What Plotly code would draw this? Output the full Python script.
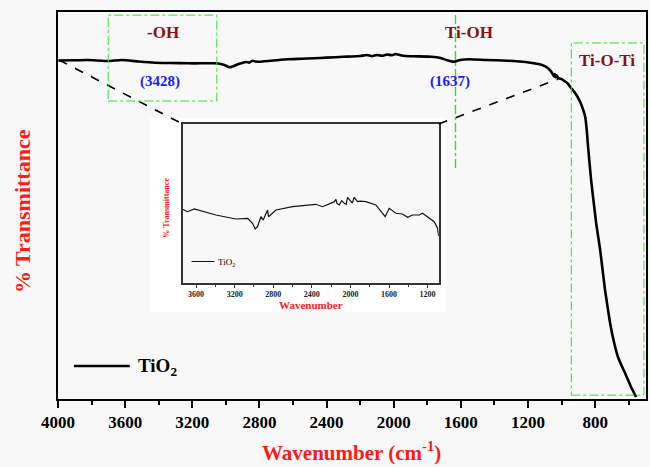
import plotly.graph_objects as go

# ---------------- data ----------------
main_wn = [3998, 3900, 3820, 3701, 3622, 3520, 3424, 3328, 3228, 3150, 3068, 3030, 3009, 2979, 2960,
           2939, 2909, 2880, 2860, 2850, 2841, 2820, 2791, 2700, 2633, 2550, 2474, 2400, 2300, 2200,
           2160, 2130, 2100, 2070, 2040, 2010, 1990, 1960, 1930, 1880, 1775, 1720, 1685, 1660, 1639,
           1605, 1548, 1450, 1321, 1250, 1185, 1130, 1094, 1070, 1055, 1045, 1040, 1035, 1030, 1020,
           1000, 991, 965, 943, 915, 889, 870, 859, 850, 842, 824, 794, 770, 741, 711, 685, 664, 640,
           622, 586, 556]
main_T = [87.47, 87.52, 87.60, 87.34, 87.60, 87.21, 86.90, 86.82, 86.74, 86.74, 86.74, 86.56, 86.30, 85.71, 85.92,
          86.30, 86.74, 87.08, 86.90, 87.21, 87.42, 87.21, 87.16, 87.52, 87.78, 87.91, 88.04, 88.22, 88.42, 88.63,
          88.89, 88.58, 88.89, 88.68, 89.02, 88.81, 89.15, 88.84, 88.63, 88.55, 88.45, 88.11, 87.60, 87.29, 87.16,
          87.60, 87.78, 87.60, 87.42, 87.21, 86.90, 86.49, 85.87, 85.01, 84.11, 83.33, 83.98, 83.07, 83.72, 82.95,
          82.69, 82.43, 81.6, 80.36, 78.8, 76.74, 74.6, 72.87, 69.5, 65.12, 56.59, 45.48, 38.50, 28.17, 19.64, 14.2,
          10.85, 8.4, 6.72, 3.10, 0.52]

inset_wn = [3740, 3688, 3619, 3394, 3187, 3066, 3015, 2987, 2963, 2928, 2904, 2859, 2849, 2772, 2600,
            2358, 2289, 2186, 2170, 2150, 2140, 2116, 2090, 2064, 2045, 2030, 2010, 1995, 1980, 1961,
            1945, 1926, 1900, 1840, 1736, 1702, 1640, 1598, 1529, 1460, 1408, 1357, 1287, 1253, 1200,
            1132, 1097, 1086]
inset_T = [46.35, 44.84, 46.54, 42.77, 40.25, 40.69, 37.55, 33.96, 35.41, 41.70, 39.62, 45.91, 41.70, 45.91, 47.99,
           49.50, 47.99, 50.50, 51.0, 52.64, 50.0, 49.06, 51.8, 50.13, 49.5, 53.90, 52.5, 51.13, 50.2, 53.90,
           52.8, 51.13, 51.5, 51.13, 49.06, 46.35, 41.70, 46.98, 43.84, 43.40, 41.32, 42.77, 42.77, 43.84, 41.32,
           38.55, 34.40, 29.56]

main_ticks = [4000, 3600, 3200, 2800, 2400, 2000, 1600, 1200, 800]
inset_ticks = [3600, 3200, 2800, 2400, 2000, 1600, 1200]
series_name = "TiO<sub>2</sub>"

# ---------------- geometry helpers (pixel -> paper) ----------------
W, H = 650, 467
L, R, T, B = 58, 648, 12, 399


def px(x):
    return (x - L) / (R - L)


def py(y):
    return (B - y) / (B - T)


SERIF = "Liberation Serif"
RED = "#ff1a1a"
MAROON = "#8b1010"
BLUE = "#1a1aff"
GREEN = "#33dd33"

fig = go.Figure()

fig.add_trace(go.Scatter(x=main_wn, y=main_T, mode="lines",
                         line=dict(color="black", width=2.6, shape="spline", smoothing=0.4), name=series_name,
                         showlegend=False, xaxis="x", yaxis="y"))
fig.add_trace(go.Scatter(x=inset_wn, y=inset_T, mode="lines",
                         line=dict(color="#111111", width=1.2), name=series_name,
                         showlegend=False, xaxis="x2", yaxis="y2"))

shapes = []
annotations = []

# white backdrop for the inset image
shapes.append(dict(type="rect", xref="paper", yref="paper", x0=px(150), x1=px(447),
                   y0=py(312), y1=py(118), fillcolor="white", line=dict(width=0), layer="below"))

# dashed connectors
shapes.append(dict(type="line", xref="paper", yref="paper", x0=px(59), y0=py(60), x1=px(183), y1=py(124),
                   line=dict(color="black", width=1.6, dash="dash")))
shapes.append(dict(type="line", xref="paper", yref="paper", x0=px(440), y0=py(124), x1=px(560), y1=py(79),
                   line=dict(color="black", width=1.6, dash="dash")))

# green highlight boxes / line (data coordinates)
shapes.append(dict(type="rect", xref="x", yref="y", x0=3701, x1=3054, y0=77.0, y1=99.2,
                   line=dict(color=GREEN, width=1, dash="dashdot")))
shapes.append(dict(type="line", xref="x", yref="y", x0=1632, x1=1632, y0=59.7, y1=99.2,
                   line=dict(color=GREEN, width=1.4, dash="dashdot")))
shapes.append(dict(type="rect", xref="x", yref="y", x0=942, x1=509, y0=1.0, y1=92.0,
                   line=dict(color=GREEN, width=1, dash="dashdot")))

# main legend
shapes.append(dict(type="line", xref="paper", yref="paper", x0=px(74), x1=px(130), y0=py(366), y1=py(366),
                   line=dict(color="black", width=2.6)))


def ann(x, y, text, size, color, xanchor="center", angle=0):
    return dict(xref="paper", yref="paper", x=px(x), y=py(y), text=text, showarrow=False,
                xanchor=xanchor, yanchor="middle", textangle=angle,
                font=dict(family=SERIF, size=size, color=color))


annotations.append(ann(136, 367, "<b>TiO<sub>2</sub></b>", 19, "black", xanchor="left"))

# inset legend
shapes.append(dict(type="line", xref="paper", yref="paper", x0=px(192), x1=px(215), y0=py(261.5), y1=py(261.5),
                   line=dict(color="#111111", width=1)))
annotations.append(ann(217, 262, "TiO<sub>2</sub>", 9, "black", xanchor="left"))

# labels
annotations += [
    ann(163, 32, "<b>-OH</b>", 17, MAROON),
    ann(470, 32, "<b>Ti-OH</b>", 17, MAROON),
    ann(609, 60, "<b>Ti-O-Ti</b>", 17, MAROON),
    ann(160, 81, "<b>(3428)</b>", 15, BLUE),
    ann(451, 81, "<b>(1637)</b>", 15, BLUE),
    # axis titles
    ann(352, 451, "<b>Wavenumber (cm<sup>-1</sup>)</b>", 21, RED),
    ann(22, 211, "<b>% Transmittance</b>", 22, RED, angle=-90),
    # inset titles
    ann(312, 305, "<b>Wavenumber</b>", 11, RED),
    ann(166, 208, "<b>% Transmittance</b>", 8, RED, angle=-90),
]

fig.update_layout(
    width=W, height=H,
    margin=dict(l=L, r=W - R, t=T, b=H - B),
    paper_bgcolor="#f8f8f8",
    plot_bgcolor="#f8f8f8",
    showlegend=False,
    shapes=shapes,
    annotations=annotations,
    xaxis=dict(range=[4000, 497], domain=[0, 1], tickmode="array", tickvals=main_ticks,
               ticktext=[str(t) for t in main_ticks],
               showline=True, mirror=True, linecolor="black", linewidth=2,
               ticks="outside", ticklen=7, tickwidth=2, tickcolor="black",
               minor=dict(dtick=200, tick0=0, ticks="outside", ticklen=4, tickwidth=2, tickcolor="black"),
               showgrid=False, zeroline=False,
               tickfont=dict(family=SERIF, size=17, color="black", weight="bold")),
    yaxis=dict(range=[0, 100], domain=[0, 1], showticklabels=False, ticks="",
               showline=True, mirror=True, linecolor="black", linewidth=2,
               showgrid=False, zeroline=False),
    xaxis2=dict(range=[3740, 1085], domain=[px(183), px(440)], anchor="y2",
                tickmode="array", tickvals=inset_ticks, ticktext=[str(t) for t in inset_ticks],
                showline=True, mirror=True, linecolor="#333333", linewidth=1.5,
                ticks="outside", ticklen=3, tickwidth=1, tickcolor="#333333",
                minor=dict(dtick=200, tick0=0, ticks="outside", ticklen=2, tickwidth=1, tickcolor="#333333"),
                showgrid=False, zeroline=False,
                tickfont=dict(family=SERIF, size=8, color="#222222", weight="bold")),
    yaxis2=dict(range=[0, 100], domain=[py(283), py(124)], anchor="x2",
                showticklabels=False, ticks="",
                showline=True, mirror=True, linecolor="#333333", linewidth=1.5,
                showgrid=False, zeroline=False),
)

fig.write_html("out.html")
